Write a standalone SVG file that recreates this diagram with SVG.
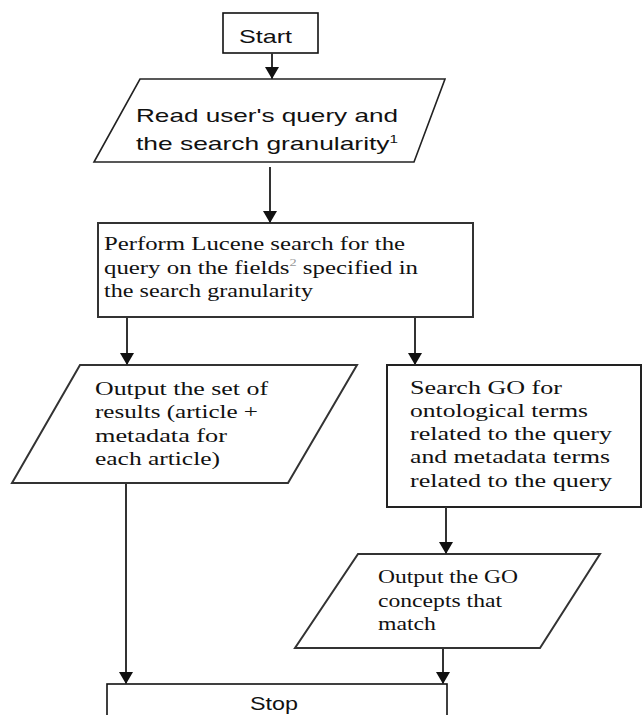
<svg xmlns="http://www.w3.org/2000/svg" width="643" height="715" viewBox="0 0 643 715">
<style>
.bg{fill:#fff}
.shape{fill:#fff;stroke:#333;stroke-width:2}
.term{fill:#fff;stroke:#111;stroke-width:1.6}
.sans{font-family:"Liberation Sans",Arial,sans-serif;font-size:19px;fill:#111}
.serif{font-family:"Liberation Serif","Times New Roman",serif;font-size:19px;fill:#111}
.sup{font-size:11px}
.conn line{stroke:#333;stroke-width:2}
</style>
<defs>
<marker id="ah" markerWidth="12" markerHeight="14" refX="12" refY="7" orient="auto" markerUnits="userSpaceOnUse" viewBox="0 0 12 14">
<path d="M0,0 L12,7 L0,14 Z" fill="#111"/>
</marker>
</defs>
<rect class="bg" x="0" y="0" width="643" height="715"/>
<g id="start">
<rect class="term" x="223" y="13" width="95" height="40"/>
<text class="sans" x="239" y="43" textLength="53" lengthAdjust="spacingAndGlyphs">Start</text>
</g>
<g id="read">
<polygon class="shape" points="140,79 445,79 414,162 94,162" style="stroke:#222;stroke-width:1.6"/>
<text class="sans" x="136" y="122" textLength="262" lengthAdjust="spacingAndGlyphs">Read user's query and</text>
<text class="sans" x="136" y="150" textLength="262" lengthAdjust="spacingAndGlyphs">the search granularity<tspan class="sup" dy="-7">1</tspan></text>
</g>
<g id="perform">
<rect class="shape" x="98" y="223" width="375" height="94"/>
<text class="serif" x="104" y="250" textLength="301" lengthAdjust="spacingAndGlyphs">Perform Lucene search for the</text>
<text class="serif" x="104" y="274" textLength="314" lengthAdjust="spacingAndGlyphs">query on the fields<tspan class="sup" dy="-8" fill="#999">2</tspan><tspan dy="8"> specified in</tspan></text>
<text class="serif" x="104" y="297" textLength="209" lengthAdjust="spacingAndGlyphs">the search granularity</text>
</g>
<g id="output-results">
<polygon class="shape" points="80,365 357,365 288,483 12,483"/>
<text class="serif" x="95" y="395" textLength="173" lengthAdjust="spacingAndGlyphs">Output the set of</text>
<text class="serif" x="95" y="418" textLength="163" lengthAdjust="spacingAndGlyphs">results (article +</text>
<text class="serif" x="95" y="442" textLength="132" lengthAdjust="spacingAndGlyphs">metadata for</text>
<text class="serif" x="95" y="465" textLength="125" lengthAdjust="spacingAndGlyphs">each article)</text>
</g>
<g id="search-go">
<rect class="shape" x="387" y="365" width="254" height="142" style="stroke:#222"/>
<text class="serif" x="410" y="394" textLength="152" lengthAdjust="spacingAndGlyphs">Search GO for</text>
<text class="serif" x="410" y="417" textLength="178" lengthAdjust="spacingAndGlyphs">ontological terms</text>
<text class="serif" x="410" y="440" textLength="202" lengthAdjust="spacingAndGlyphs">related to the query</text>
<text class="serif" x="410" y="463" textLength="200" lengthAdjust="spacingAndGlyphs">and metadata terms</text>
<text class="serif" x="410" y="487" textLength="202" lengthAdjust="spacingAndGlyphs">related to the query</text>
</g>
<g id="output-go">
<polygon class="shape" points="358,554 600,554 540,648 295,648"/>
<text class="serif" x="378" y="583" textLength="140" lengthAdjust="spacingAndGlyphs">Output the GO</text>
<text class="serif" x="378" y="607" textLength="124" lengthAdjust="spacingAndGlyphs">concepts that</text>
<text class="serif" x="378" y="630" textLength="58" lengthAdjust="spacingAndGlyphs">match</text>
</g>
<g id="stop">
<rect class="term" x="107" y="684" width="340" height="40"/>
<text class="sans" x="250" y="710" textLength="48" lengthAdjust="spacingAndGlyphs">Stop</text>
</g>
<g class="conn" id="connectors">
<line x1="272" y1="53" x2="272" y2="79" marker-end="url(#ah)"/>
<line x1="270" y1="167" x2="270" y2="223" marker-end="url(#ah)"/>
<line x1="127" y1="317" x2="127" y2="365" marker-end="url(#ah)"/>
<line x1="415" y1="317" x2="415" y2="365" marker-end="url(#ah)"/>
<line x1="446" y1="507" x2="446" y2="554" marker-end="url(#ah)"/>
<line x1="126" y1="483" x2="126" y2="684" marker-end="url(#ah)"/>
<line x1="443" y1="648" x2="443" y2="684" marker-end="url(#ah)"/>
</g>
</svg>
